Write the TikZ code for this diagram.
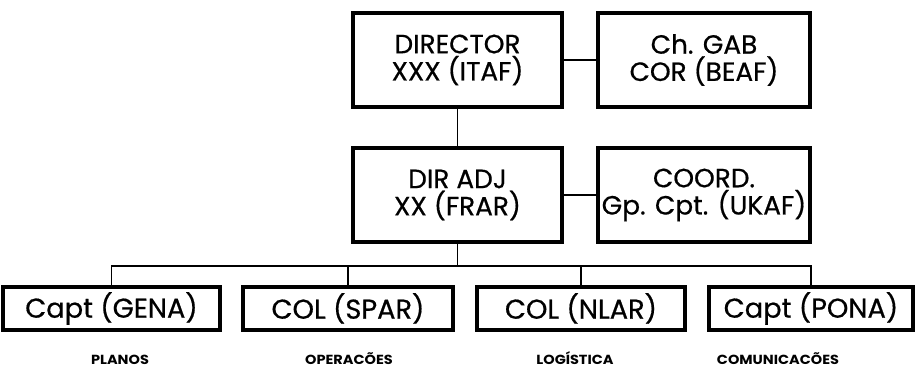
\documentclass[tikz,border=0pt]{standalone}
\usepackage{fontspec}
\setmainfont{Poppins}[UprightFeatures={FakeBold=0.6}]
\newfontfamily\branchfont{Poppins}[FakeStretch=1.1]
\tikzset{
  unit/.style={draw, line width=2pt, inner sep=0pt, align=center,
    minimum width=4.18cm, minimum height=1.88cm, font=\fontsize{15}{15.5}\selectfont},
  section/.style={draw, line width=2pt, inner sep=0pt,
    minimum height=0.86cm, font=\fontsize{15.5}{16}\selectfont},
  branch/.style={inner sep=0pt, anchor=base, font=\fontsize{7.5}{8}\branchfont\bfseries},
  link/.style={line width=0.9pt}
}
\begin{document}
\begin{tikzpicture}
      \useasboundingbox (0, 0) rectangle (18.3, 7.36);
      \node[unit] (director) at (9.15, 6.16){DIRECTOR\\XXX (ITAF)};
      \node[unit, minimum width=4.24cm] (chgab) at (14.08, 6.16){Ch. GAB\\COR (BEAF)};
      \node[unit] (diradj) at (9.15, 3.46){DIR ADJ\\XX (FRAR)};
      \node[unit, minimum width=4.24cm] (coord) at (14.08, 3.46){COORD.\\Gp. Cpt. (UKAF)};

      \node[section, minimum width=4.34cm] (gena) at (2.23, 1.19){Capt (GENA)};
      \node[section, minimum width=4.2cm] (spar) at (6.96, 1.19){COL (SPAR)};
      \node[section, minimum width=4.16cm] (nlar) at (11.62, 1.19){COL (NLAR)};
      \node[section, minimum width=4.08cm] (pona) at (16.22, 1.19){Capt (PONA)};

      \node[branch] (planos) at (2.40, 0.06){PLANOS};
      \node[branch] (operacoes) at (6.98, 0.06){OPERACÕES};
      \node[branch] (logistica) at (11.50, 0.06){LOGÍSTICA};
      \node[branch] (comunicacoes) at (15.56, 0.06){COMUNICACÕES};

      \coordinate (bus) at (9.15, 2.04);
      \draw[link] (director) -- (chgab);
      \draw[link] (diradj) -- (coord);
      \draw[link] (director) -- (diradj);
      \draw[link] (diradj.south) -- (bus);
      \draw[link] (gena.north) -- (gena.north |- bus) -- (pona.north |- bus) -- (pona.north);
      \draw[link] (spar.north) -- (spar.north |- bus);
      \draw[link] (nlar.north) -- (nlar.north |- bus);
\end{tikzpicture}
\end{document}
